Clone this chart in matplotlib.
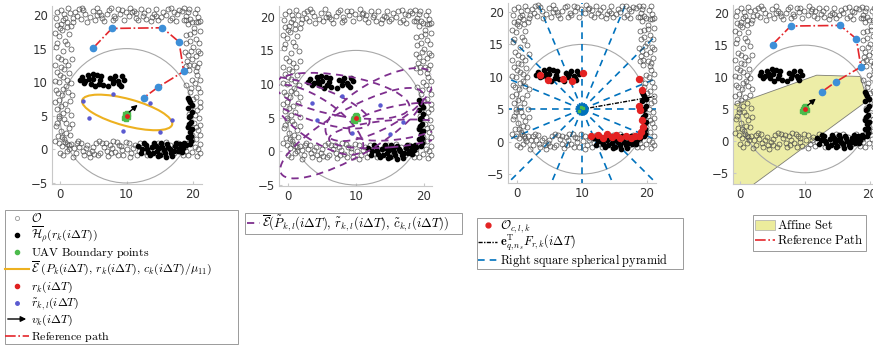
import numpy as np
import matplotlib
matplotlib.use("Agg")
from matplotlib import pyplot as plt
from matplotlib.patches import Ellipse, Polygon, Circle, FancyArrowPatch, Rectangle
from matplotlib.lines import Line2D

plt.rcParams['mathtext.fontset'] = 'cm'

W, H = 873.0, 347.0

# obstacle cloud O (gray open circles)
obs_top = [(0.2, 20.8), (0.8, 19.6), (1.5, 20.3), (0.5, 19.2), (1.2, 21.0), (2.3, 20.5), (3.1, 19.4),
           (3.8, 20.1), (4.5, 19.7), (2.8, 20.9), (5.2, 19.3), (5.9, 20.4), (6.6, 19.1), (7.4, 20.7),
           (6.1, 20.0), (8.3, 19.5), (9.0, 20.2), (9.6, 19.3), (8.7, 20.9), (10.4, 19.8), (11.1, 20.6),
           (11.8, 19.2), (10.9, 20.4), (12.5, 19.9), (13.3, 20.8), (12.9, 19.4), (14.1, 20.1),
           (14.8, 19.3), (15.5, 20.5), (14.4, 19.9), (16.2, 20.9), (16.9, 19.5), (17.6, 20.2),
           (16.5, 19.2), (18.3, 20.6), (19.0, 19.8), (18.7, 21.0), (19.6, 19.4), (20.3, 20.3),
           (20.8, 19.7), (3.5, 20.7), (7.9, 19.2), (13.7, 19.1), (17.2, 20.4), (5.6, 20.0),
           (0.1, 18.6), (1.1, 18.2), (20.4, 18.9), (19.4, 20.9),
           (0.6, 20.2), (1.9, 19.0), (2.6, 19.8), (3.3, 21.1), (4.0, 19.0), (4.9, 20.6), (5.5, 21.1),
           (6.3, 19.6), (7.0, 20.1), (7.7, 21.0), (8.1, 19.9), (9.3, 20.8), (9.9, 20.4), (10.6, 21.1),
           (11.4, 19.6), (12.2, 20.9), (12.7, 20.3), (13.9, 19.7), (14.5, 20.9), (15.2, 19.7),
           (15.9, 20.0), (16.7, 21.0), (17.4, 19.1), (17.9, 20.8), (18.6, 19.3), (19.3, 20.4),
           (20.6, 20.9), (21.0, 19.1), (2.0, 19.6), (11.5, 20.3), (-0.4, 20.4), (-0.6, 19.5)]
obs_left = [(-0.5, 18.5), (0.3, 17.8), (1.0, 18.9), (-0.2, 16.9), (0.7, 16.2), (1.3, 17.1),
            (-0.6, 15.3), (0.4, 14.6), (1.1, 15.7), (-0.3, 13.8), (0.8, 13.1), (0.1, 12.2),
            (1.2, 12.6), (-0.5, 11.5), (0.5, 10.8), (1.4, 11.3), (-0.1, 10.0), (0.9, 9.4),
            (-0.6, 8.8), (0.3, 8.1), (1.2, 8.6), (-0.2, 7.4), (0.7, 6.8), (1.5, 7.2), (-0.5, 6.0),
            (0.4, 5.4), (1.1, 5.9), (-0.1, 4.6), (0.9, 4.0), (-0.6, 3.5), (0.2, 2.8), (1.3, 3.2),
            (-0.3, 2.0), (0.6, 1.5), (1.5, 2.2),
            (-0.8, 17.3), (0.0, 18.1), (1.7, 18.4), (-0.4, 15.9), (1.6, 14.9), (0.2, 13.4),
            (-0.7, 12.6), (1.8, 13.5), (0.0, 11.1), (-0.8, 10.2), (1.6, 9.9), (0.5, 9.0),
            (-0.3, 8.4), (1.8, 8.1), (0.1, 6.4), (-0.8, 7.0), (1.7, 5.1), (0.6, 4.5), (-0.4, 3.9),
            (1.8, 3.8), (0.9, 2.4), (-0.7, 1.2), (0.3, 1.9), (1.1, 0.8), (-0.2, 0.9), (0.6, 12.0),
            (1.0, 10.4), (-0.2, 5.0)]
obs_right = [(19.2, 18.6), (20.1, 18.0), (20.8, 18.9), (19.5, 17.2), (20.4, 16.5), (19.0, 15.8),
             (20.9, 15.9), (19.7, 14.7), (20.5, 13.9), (19.1, 13.2), (20.2, 12.5), (20.9, 12.9),
             (19.4, 11.8), (20.6, 11.0), (19.9, 10.3), (19.0, 9.6), (20.7, 9.2), (19.6, 8.5),
             (20.4, 7.8), (21.0, 7.1), (19.8, 6.5), (20.6, 5.9), (19.4, 5.2), (20.9, 4.6),
             (20.1, 4.0), (19.3, 3.4), (20.7, 2.9), (19.9, 2.2), (20.5, 1.5), (19.2, 1.0),
             (21.0, 0.8), (20.3, 0.3), (20.2, 17.4), (19.6, 16.1), (20.8, 14.6), (19.3, 14.0),
             (18.9, 19.3), (19.8, 19.0), (21.1, 17.6), (18.9, 17.0), (20.0, 15.2), (21.1, 14.3),
             (19.9, 13.5), (18.9, 12.4), (20.4, 11.7), (21.1, 10.4), (20.3, 9.9), (19.7, 9.1),
             (21.1, 8.5), (20.0, 7.5), (21.0, 6.3), (20.3, 5.1), (21.1, 3.6), (20.4, 3.4),
             (21.0, 2.2), (19.8, 1.4), (20.8, 0.0), (19.9, -0.4), (20.6, -1.0), (19.3, -0.9),
             (21.1, -0.5), (18.8, 14.5), (19.4, 12.6), (20.6, 12.2)]
obs_bottom = [(0.3, 0.5), (1.0, -0.3), (1.7, 0.8), (2.4, -0.6), (2.9, 0.3), (3.6, -0.9), (4.1, 0.6),
              (4.8, -0.2), (5.4, 0.9), (6.0, -0.5), (6.6, 0.4), (7.2, -1.0), (7.8, 0.2), (8.3, -0.4),
              (8.9, 0.7), (9.5, -0.8), (10.1, 0.1), (10.7, -0.5), (11.3, 0.6), (11.9, -0.2),
              (12.5, 0.4), (13.1, -0.9), (13.8, 0.3), (14.4, -0.5), (15.0, 0.6), (15.6, -0.3),
              (16.3, 0.2), (16.9, -0.8), (17.5, 0.5), (18.2, -0.4), (18.8, 0.3), (0.8, 1.1),
              (3.2, 1.0), (5.9, 1.2), (8.6, 1.1), (2.0, -1.1), (4.5, -1.2), (6.9, 0.9), (9.2, 0.5),
              (1.4, 0.1), (3.9, 0.2), (5.1, -0.7), (7.5, 0.7), (10.4, 0.9),
              (0.5, -0.9), (1.3, 0.6), (2.1, 0.2), (2.7, 1.2), (3.4, -0.3), (4.3, -0.6), (5.0, 0.3),
              (5.7, -0.9), (6.3, 1.0), (7.0, -0.3), (7.7, -0.6), (8.0, 1.2), (8.7, -0.9), (9.3, -0.1),
              (9.9, 1.1), (10.5, -1.1), (11.0, 0.2), (11.6, -0.8), (12.1, 1.0), (12.8, -0.4),
              (13.5, -0.3), (14.1, 0.6), (14.7, 1.0), (15.3, -0.7), (15.9, 1.1), (16.6, 0.6),
              (17.2, -0.5), (17.8, 1.0), (18.5, -0.8), (18.9, -0.2), (0.0, -0.5), (2.5, 0.9)]
obstacles = np.array(obs_top + obs_left + obs_right + obs_bottom)

# obstacles inside the sensing set (black dots)
hull_pts = np.array([
    (3.3, 10.8), (3.8, 10.2), (4.2, 11.0), (4.6, 9.8), (5.0, 10.5), (5.3, 9.4), (5.6, 11.1),
    (6.0, 10.3), (6.4, 9.6), (7.5, 10.6), (7.9, 9.9), (8.3, 10.9), (8.7, 10.2), (9.1, 9.5),
    (9.6, 10.4), (4.9, 11.2), (7.2, 9.4), (3.6, 9.9), (4.4, 10.5), (5.8, 9.8), (6.2, 10.9),
    (8.0, 10.4), (9.3, 10.9), (8.9, 9.8), (3.0, 10.3),
    (11.8, 0.5), (12.4, 0.1), (12.9, 0.7), (13.3, -0.4), (13.8, 0.3), (14.2, 0.9), (14.6, -0.2),
    (15.0, -0.8), (15.4, 0.4), (15.8, -0.5), (16.1, 0.8), (16.5, 0.0), (16.9, -1.0), (17.3, 0.5),
    (17.7, -0.3), (18.1, 0.8), (18.5, 0.2), (18.9, 0.6), (15.2, 0.9), (13.6, -0.9), (16.7, -0.6),
    (14.9, 0.2), (12.2, -0.5), (17.9, 0.1), (12.6, 0.9), (13.1, 0.0), (14.0, -0.6), (14.4, 0.5),
    (15.6, -0.1), (16.3, 0.4), (17.1, -0.2), (17.5, 0.9), (18.3, -0.4), (18.7, 0.9), (16.0, -1.1),
    (14.7, -1.0),
    (19.3, 1.8), (19.6, 2.6), (19.2, 3.3), (19.7, 4.1), (19.4, 4.8), (19.8, 5.5), (19.3, 6.2),
    (19.6, 7.0), (19.2, 7.7), (19.7, 2.0), (19.5, 5.0), (19.5, 0.8), (19.8, 3.0), (19.4, 3.8),
    (19.8, 6.6), (19.4, 7.3), (19.7, 1.2)])

# UAV position, boundary points and velocity
uav = (10.0, 5.0)
boundary_x = [9.6, 9.8, 10.2, 10.3, 9.9, 10.1, 9.7, 10.0]
boundary_y = [4.7, 5.3, 5.2, 4.8, 4.5, 4.9, 5.0, 5.4]
vel_tip = (12.0, 6.9)
sense_radius = 10.0

# reference path waypoints
path_x = [5.0, 7.8, 15.4, 17.9, 18.6, 14.8, 12.6]
path_y = [15.1, 18.0, 18.1, 16.0, 11.6, 9.3, 7.7]

# safe ellipse and its sample points
ell_center = (10.1, 5.5)
ell_a, ell_b, ell_angle = 7.0, 2.0, -15.0
samp_x = [3.5, 8.0, 13.5, 16.9, 15.0, 9.4, 4.3]
samp_y = [7.25, 8.24, 6.95, 4.4, 2.6, 2.7, 4.7]

# candidate ellipses around each sample point
cand_a = [9.0, 10.0, 9.0, 8.0, 9.0, 12.0, 8.0]
cand_b = [2.5, 3.0, 3.5, 2.5, 2.0, 3.5, 3.0]
cand_angle = [-20, -10, 30, 10, 5, 30, -35]

# closest obstacle points per pyramid
oc_pts = np.array([
    (3.5, 10.3), (4.8, 9.5), (7.1, 9.7), (8.4, 9.4), (10.1, 10.6),
    (18.7, 9.6), (19.2, 8.0), (18.8, 5.5), (18.9, 4.9), (19.2, 3.3), (19.4, 2.3),
    (11.4, 0.8), (12.4, 1.0), (13.2, 0.6), (13.9, 1.1), (14.6, 0.7), (15.2, 1.0), (15.9, 0.6),
    (16.8, 0.9), (17.5, 0.6), (18.1, 0.8), (18.8, 0.9), (19.0, 1.5)])
n_rays = 16
dir_tip = (22.5, 7.2)

# affine set polygon
affine_x = [-3.0, 11.8, 18.5, 19.6, 0.5, -3.0]
affine_y = [4.9, 10.3, 10.1, 6.3, -8.0, -8.0]

C_GRAY = '#4d4d4d'
C_PATH = '#e4262b'
C_WP = '#3d8fd8'
C_ORANGE = '#EDB120'
C_PURPLE = '#7E2F8E'
C_BLUE = '#0072BD'
C_SAMP = '#5a5ad0'
C_GREEN = '#4cbb4c'
C_RED = '#e32222'


def fx(x):
    return x / W


def fy(y):
    return 1 - y / H


def base_axes(fig, px, xlim, ylim):
    left, right, top, bottom = px
    ax = fig.add_axes([left / W, (H - bottom) / H, (right - left) / W, (bottom - top) / H])
    ax.set_xlim(*xlim)
    ax.set_ylim(*ylim)
    ax.set_xticks([0, 10, 20])
    ax.set_yticks([-5, 0, 5, 10, 15, 20])
    for s in ['top', 'right']:
        ax.spines[s].set_visible(False)
    for s in ['left', 'bottom']:
        ax.spines[s].set_color('#c8c8c8')
        ax.spines[s].set_linewidth(0.8)
    ax.tick_params(direction='in', length=2, color='#c8c8c8', labelsize=8.5,
                   labelcolor='#333333', pad=3)
    ax.add_patch(Circle(uav, sense_radius, fill=False, ec='#a8a8a8', lw=0.8, zorder=2))
    ax.plot(obstacles[:, 0], obstacles[:, 1], 'o', ms=3.6, mfc='none', mec=C_GRAY, mew=0.5,
            zorder=3, clip_on=False)
    ax.plot(hull_pts[:, 0], hull_pts[:, 1], 'o', ms=3.1, color='k', zorder=4)
    return ax


def draw_uav(ax, arrow=True):
    ax.plot(boundary_x, boundary_y, 's', ms=2.5, color=C_GREEN, zorder=6)
    ax.plot(*uav, 'o', ms=2.5, color='#e02020', zorder=7)
    if arrow:
        ax.annotate('', xy=vel_tip, xytext=(uav[0] + 0.1, uav[1] + 0.3),
                    arrowprops=dict(arrowstyle='-|>', color='k', lw=1.0, mutation_scale=8),
                    zorder=8)


def draw_path(ax):
    ax.plot(path_x, path_y, '-.', color=C_PATH, lw=1.2, zorder=5)
    ax.plot(path_x, path_y, 'o', ms=4.5, color=C_WP, zorder=6)


def boxed_legend(fig, box, hx, tx, rows, size):
    """box = (left, top, right, bottom) in pixels, hx = handle x-range, rows = (y, kind, style, label)"""
    l, t, r, b = box
    fig.add_artist(Rectangle((fx(l), fy(b)), (r - l) / W, (b - t) / H, transform=fig.transFigure,
                             fc='white', ec='#9a9a9a', lw=0.7, zorder=10))
    for y, kind, style, label in rows:
        if kind == 'marker':
            fig.add_artist(Line2D([fx((hx[0] + hx[1]) / 2)], [fy(y)], ls='none',
                                  transform=fig.transFigure, zorder=11, **style))
        elif kind == 'line':
            fig.add_artist(Line2D([fx(hx[0]), fx(hx[1])], [fy(y), fy(y)],
                                  transform=fig.transFigure, zorder=11, **style))
        elif kind == 'arrow':
            fig.add_artist(FancyArrowPatch((fx(hx[0]), fy(y)), (fx(hx[1]), fy(y)),
                                           transform=fig.transFigure, arrowstyle='-|>',
                                           mutation_scale=8, zorder=11, **style))
        elif kind == 'patch':
            fig.add_artist(Rectangle((fx(hx[0]), fy(y + 5)), (hx[1] - hx[0]) / W, 10 / H,
                                     transform=fig.transFigure, zorder=11, **style))
        fig.text(fx(tx), fy(y + 4), label, fontsize=size, ha='left', va='baseline', zorder=12)


fig = plt.figure(figsize=(8.73, 3.47), dpi=100)

# panel 1: safe ellipse
ax1 = base_axes(fig, (52, 202, 6, 184), (-1.2, 21.35), (-5.15, 21.34))
ax1.add_patch(Ellipse(ell_center, 2 * ell_a, 2 * ell_b, angle=ell_angle, fill=False,
                      ec=C_ORANGE, lw=1.5, zorder=5))
ax1.plot(samp_x, samp_y, 'o', ms=2.2, color=C_SAMP, zorder=6)
draw_path(ax1)
draw_uav(ax1)
boxed_legend(fig, (5, 210, 238, 344), (5, 29), 31, [
    (218, 'marker', dict(marker='o', ms=3, mfc='none', mec='#999999', mew=0.6),
     r'$\mathcal{O}$'),
    (235, 'marker', dict(marker='o', ms=3, color='k'),
     r'$\overline{\mathcal{H}}_\rho(r_k(i\Delta T))$'),
    (252, 'marker', dict(marker='o', ms=3, color=C_GREEN),
     r'$\mathrm{UAV\ Boundary\ points}$'),
    (269, 'line', dict(color=C_ORANGE, lw=1.5),
     r'$\overline{\mathcal{E}}\ (P_k(i\Delta T),\, r_k(i\Delta T),\, c_k(i\Delta T)/\mu_{11})$'),
    (286, 'marker', dict(marker='o', ms=3, color='#e02020'),
     r'$r_k(i\Delta T)$'),
    (302.5, 'marker', dict(marker='o', ms=2.5, color=C_SAMP),
     r'$\tilde{r}_{k,l}(i\Delta T)$'),
    (319, 'arrow', dict(color='k', lw=1.0),
     r'$v_k(i\Delta T)$'),
    (335.5, 'line', dict(ls='-.', color=C_PATH, lw=1.2),
     r'$\mathrm{Reference\ path}$'),
], 8.6)

# panel 2: candidate ellipses
ax2 = base_axes(fig, (279, 432, 6, 186), (-1.32, 21.18), (-5.15, 21.6))
for cx, cy, a, b, ang in zip(samp_x, samp_y, cand_a, cand_b, cand_angle):
    ax2.add_patch(Ellipse((cx, cy), 2 * a, 2 * b, angle=ang, fill=False, ec=C_PURPLE,
                          lw=1.3, ls=(0, (4, 3)), zorder=5))
ax2.plot(samp_x, samp_y, 'o', ms=2.2, color=C_SAMP, zorder=6)
draw_uav(ax2, arrow=False)
boxed_legend(fig, (245, 213, 462, 234), (247, 260), 262, [
    (223, 'line', dict(color=C_PURPLE, lw=1.3, ls=(0, (4, 3))),
     r'$\overline{\mathcal{E}}(\tilde{P}_{k,l}(i\Delta T),\, \tilde{r}_{k,l}(i\Delta T),\, '
     r'\tilde{c}_{k,l}(i\Delta T))$'),
], 9.2)

# panel 3: spherical pyramids
ax3 = base_axes(fig, (508, 656, 3, 183), (-1.38, 21.38), (-6.39, 21.39))
for k in range(n_rays):
    th = 2 * np.pi * k / n_rays
    ax3.plot([uav[0], uav[0] + 30 * np.cos(th)], [uav[1], uav[1] + 30 * np.sin(th)],
             color=C_BLUE, lw=1.2, ls=(0, (4, 3)), zorder=2.5)
ax3.plot(oc_pts[:, 0], oc_pts[:, 1], 'o', ms=4.3, color=C_RED, zorder=5)
ax3.plot([uav[0], dir_tip[0]], [uav[1], dir_tip[1]], color='k', lw=1.0,
         ls=(0, (3, 1, 1, 1)), zorder=6)
ax3.plot(*uav, 'o', ms=8, color=C_BLUE, zorder=7)
ax3.plot(boundary_x[:3], boundary_y[:3], 's', ms=2, color=C_GREEN, zorder=8)
boxed_legend(fig, (477, 218, 683, 269), (478, 497), 500, [
    (225, 'marker', dict(marker='o', ms=3.5, color=C_RED),
     r'$\mathcal{O}_{c,l,k}$'),
    (242, 'line', dict(color='k', lw=1.0, ls=(0, (3, 1, 1, 1))),
     r'$\mathbf{e}^{\mathrm{T}}_{q,n_s} F_{r,k}(i\Delta T)$'),
    (260, 'line', dict(color=C_BLUE, lw=1.2, ls=(0, (4, 3))),
     r'$\mathrm{Right\ square\ spherical\ pyramid}$'),
], 8.8)

# panel 4: affine set
ax4 = base_axes(fig, (733, 880, 5, 184), (-1.08, 21.54), (-6.76, 21.3))
ax4.add_patch(Polygon(np.column_stack([affine_x, affine_y]), closed=True, fc='#e8e88a',
                      alpha=0.75, ec='#555555', lw=0.6, zorder=1))
draw_path(ax4)
draw_uav(ax4)
boxed_legend(fig, (753, 215, 866, 251), (755, 775), 777, [
    (225, 'patch', dict(fc='#ecec9c', ec='#aaaaaa', lw=0.5),
     r'$\mathrm{Affine\ Set}$'),
    (240, 'line', dict(ls='-.', color=C_PATH, lw=1.2),
     r'$\mathrm{Reference\ Path}$'),
], 9.2)

fig.savefig('out.png', dpi=100)
